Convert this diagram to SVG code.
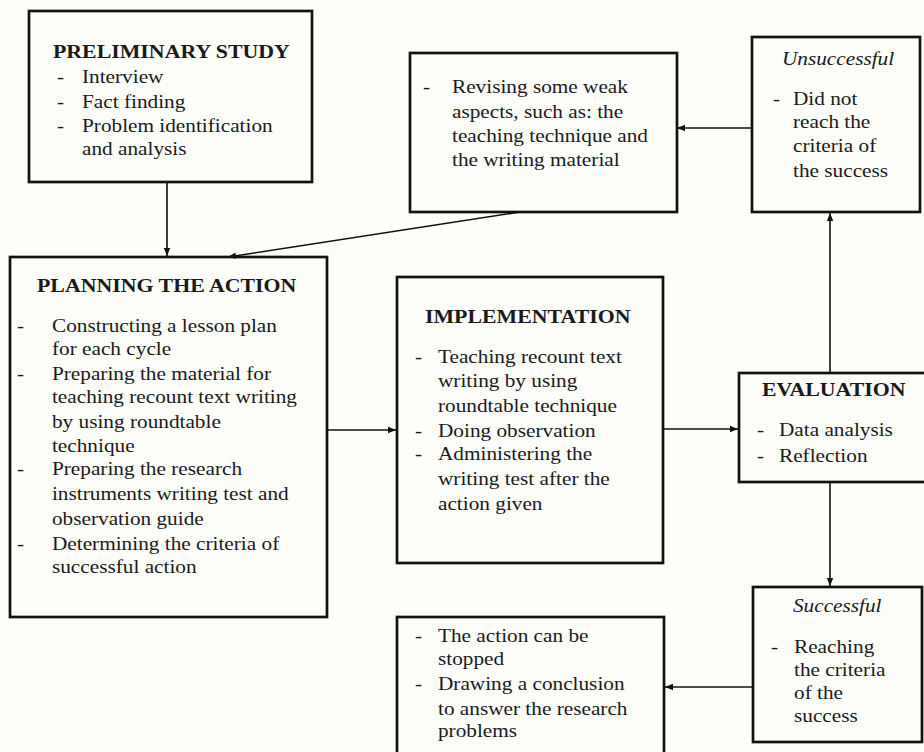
<svg xmlns="http://www.w3.org/2000/svg" width="924" height="752" viewBox="0 0 924 752">
<defs>
<style>
.box{fill:none;stroke:#111;stroke-width:2.7}
.t{font-family:"Liberation Serif","Times New Roman",serif;font-size:18.5px;fill:#1a1a1a}
.b{font-weight:bold;font-size:19px}
.i{font-style:italic}
.c{fill:none;stroke:#111;stroke-width:1.6}
</style>
<marker id="ah" viewBox="0 0 10 10" refX="10" refY="5" markerWidth="8" markerHeight="8" markerUnits="userSpaceOnUse" orient="auto">
<path d="M0,1 L10,5 L0,9 Z" fill="#111"/>
</marker>
</defs>
<rect width="924" height="752" fill="#fdfdfa"/>
<g id="connectors">
<line class="c" x1="167" y1="182" x2="167" y2="256" marker-end="url(#ah)"/>
<line class="c" x1="520" y1="212" x2="228" y2="257" marker-end="url(#ah)"/>
<line class="c" x1="752" y1="128" x2="677" y2="128" marker-end="url(#ah)"/>
<line class="c" x1="327" y1="430" x2="396" y2="430" marker-end="url(#ah)"/>
<line class="c" x1="664" y1="429" x2="738" y2="429" marker-end="url(#ah)"/>
<line class="c" x1="830" y1="373" x2="830" y2="213" marker-end="url(#ah)"/>
<line class="c" x1="830" y1="482" x2="830" y2="586" marker-end="url(#ah)"/>
<line class="c" x1="753" y1="687" x2="665" y2="687" marker-end="url(#ah)"/>
</g>
<g id="preliminary">
<rect class="box" x="29" y="11" width="283" height="171"/>
<g transform="matrix(1.15,0,0,1,-7.95,0)">
<text class="t b" x="53" y="58">PRELIMINARY STUDY</text>
<text class="t" x="56.5" y="83">-</text><text class="t" x="78.2" y="83">Interview</text>
<text class="t" x="56.5" y="108">-</text><text class="t" x="78.2" y="108">Fact finding</text>
<text class="t" x="56.5" y="132">-</text><text class="t" x="78.2" y="132">Problem identification</text>
<text class="t" x="78.2" y="155">and analysis</text>
</g>
</g>
<g id="revising">
<rect class="box" x="410" y="53" width="267" height="159"/>
<g transform="matrix(1.15,0,0,1,-63.45,0)">
<text class="t" x="423" y="93">-</text><text class="t" x="448.2" y="93">Revising some weak</text>
<text class="t" x="448.2" y="118">aspects, such as: the</text>
<text class="t" x="448.2" y="142">teaching technique and</text>
<text class="t" x="448.2" y="166">the writing material</text>
</g>
</g>
<g id="unsuccessful">
<rect class="box" x="752" y="37" width="168" height="175"/>
<g transform="matrix(1.15,0,0,1,-115.95,0)">
<text class="t i" x="780.8" y="65">Unsuccessful</text>
<text class="t" x="773" y="105">-</text><text class="t" x="790.4" y="105">Did not</text>
<text class="t" x="790.4" y="128">reach the</text>
<text class="t" x="790.4" y="152">criteria of</text>
<text class="t" x="790.4" y="177">the success</text>
</g>
</g>
<g id="planning">
<rect class="box" x="10" y="257" width="317" height="360"/>
<g transform="matrix(1.15,0,0,1,-2.55,0)">
<text class="t b" x="34.4" y="292">PLANNING THE ACTION</text>
<text class="t" x="17" y="332">-</text><text class="t" x="47.4" y="332">Constructing a lesson plan</text>
<text class="t" x="47.4" y="355">for each cycle</text>
<text class="t" x="17" y="380">-</text><text class="t" x="47.4" y="380">Preparing the material  for</text>
<text class="t" x="47.4" y="403">teaching recount text writing</text>
<text class="t" x="47.4" y="428">by using roundtable</text>
<text class="t" x="47.4" y="452">technique</text>
<text class="t" x="17" y="475">-</text><text class="t" x="47.4" y="475">Preparing the research</text>
<text class="t" x="47.4" y="500">instruments writing test and</text>
<text class="t" x="47.4" y="525">observation guide</text>
<text class="t" x="17" y="550">-</text><text class="t" x="47.4" y="550">Determining the criteria of</text>
<text class="t" x="47.4" y="573">successful action</text>
</g>
</g>
<g id="implementation">
<rect class="box" x="397" y="277" width="266" height="286"/>
<g transform="matrix(1.15,0,0,1,-62.25,0)">
<text class="t b" x="423.7" y="323">IMPLEMENTATION</text>
<text class="t" x="415" y="363">-</text><text class="t" x="435" y="363">Teaching recount text</text>
<text class="t" x="435" y="387">writing by using</text>
<text class="t" x="435" y="412">roundtable technique</text>
<text class="t" x="415" y="437">-</text><text class="t" x="435" y="437">Doing observation</text>
<text class="t" x="415" y="460">-</text><text class="t" x="435" y="460">Administering the</text>
<text class="t" x="435" y="485">writing test after the</text>
<text class="t" x="435" y="510">action given</text>
</g>
</g>
<g id="evaluation">
<rect class="box" x="739" y="373" width="200" height="109"/>
<g transform="matrix(1.15,0,0,1,-113.55,0)">
<text class="t b" x="761.3" y="396">EVALUATION</text>
<text class="t" x="757" y="436">-</text><text class="t" x="776.1" y="436">Data analysis</text>
<text class="t" x="757" y="462">-</text><text class="t" x="776.1" y="462">Reflection</text>
</g>
</g>
<g id="successful">
<rect class="box" x="753" y="587" width="169" height="155"/>
<g transform="matrix(1.15,0,0,1,-115.65,0)">
<text class="t i" x="790.1" y="612">Successful</text>
<text class="t" x="771" y="653">-</text><text class="t" x="791" y="653">Reaching</text>
<text class="t" x="791" y="676">the criteria</text>
<text class="t" x="791" y="699">of the</text>
<text class="t" x="791" y="722">success</text>
</g>
</g>
<g id="stopped">
<rect class="box" x="397" y="617" width="267" height="150"/>
<g transform="matrix(1.15,0,0,1,-62.25,0)">
<text class="t" x="415" y="642">-</text><text class="t" x="435" y="642">The action can be</text>
<text class="t" x="435" y="665">stopped</text>
<text class="t" x="415" y="690">-</text><text class="t" x="435" y="690">Drawing a conclusion</text>
<text class="t" x="435" y="715">to answer the research</text>
<text class="t" x="435" y="737">problems</text>
</g>
</g>
</svg>
